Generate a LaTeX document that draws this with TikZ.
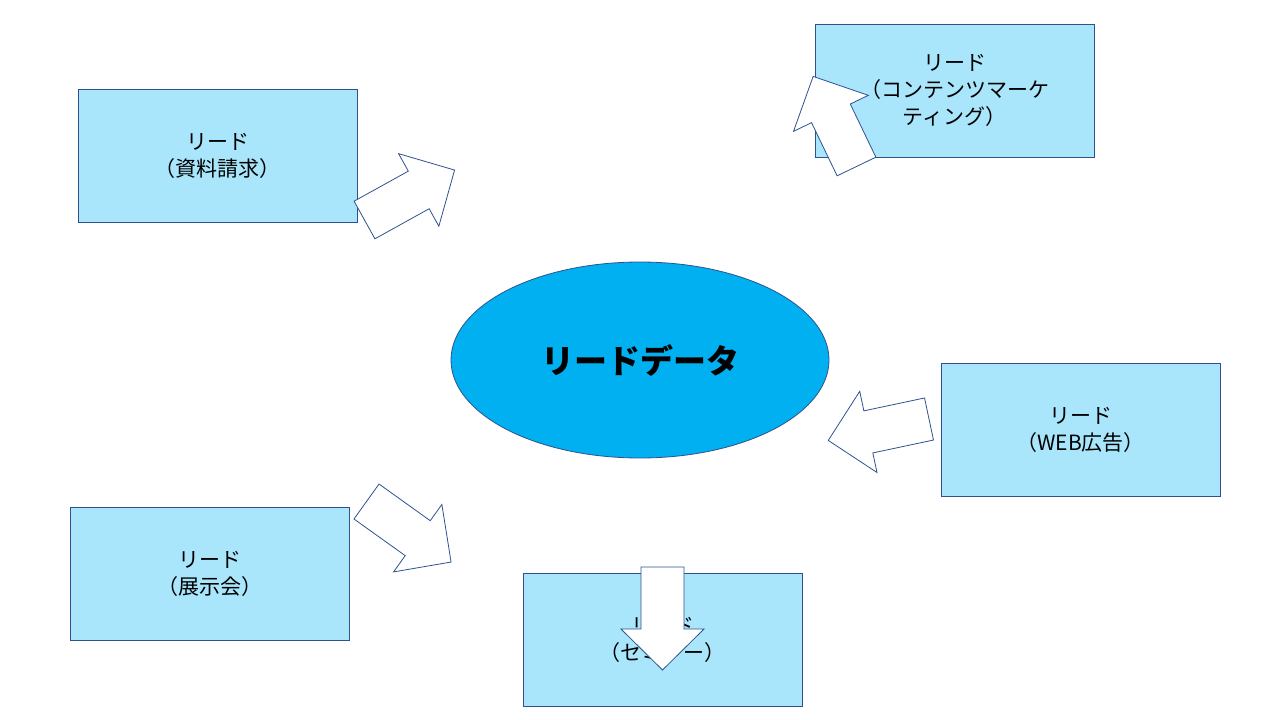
\documentclass[tikz,border=0pt]{standalone}
\usepackage{fontspec}
\usetikzlibrary{shapes.geometric}
\setmainfont{Noto Sans CJK JP}
\definecolor{boxfill}{HTML}{A9E6FC}
\definecolor{edge}{HTML}{2F528F}
\definecolor{ellfill}{HTML}{00B0F0}
\begin{document}
\begin{tikzpicture}[x=1pt,y=-1pt,
  srcbox/.style={draw=edge,fill=boxfill,line width=0.8pt,minimum width=279pt,minimum height=133pt,align=center,font=\fontsize{21}{27}\selectfont,inner sep=0pt},
  blockarrow/.style={draw=edge,fill=white,line width=0.8pt,line join=miter}]
\useasboundingbox (0,0) rectangle (1280,720);
\node[srcbox] (a) at (217.5,156) {リード\\（資料請求）};
\node[srcbox] (b) at (954.5,90.5) {リード\\（コンテンツマーケ\\ティング）};
\node[srcbox] (c) at (1080.5,429.5) {リード\\（WEB広告）};
\node[srcbox] (d) at (209.5,573.5) {リード\\（展示会）};
\node[srcbox] (e) at (662.5,639.5) {リード\\（セミナー）};
\node[draw=edge,fill=ellfill,ellipse,line width=0.8pt,minimum width=378pt,minimum height=196pt,font=\fontsize{33}{40}\selectfont\bfseries] (m) at (640,360) {リードデータ};
\newcommand{\blk}[3]{%
 \begin{scope}[shift={(#1)},rotate=#2]
 \draw[blockarrow] (0,-21.5) -- (#3-41,-21.5) -- (#3-41,-41.5) -- (#3,0) -- (#3-41,41.5) -- (#3-41,21.5) -- (0,21.5) -- cycle;
 \end{scope}}
\blk{662.5,567}{-90}{103}
\blk{364.5,220}{29}{103}
\blk{366.5,501.5}{-35.6}{104}
\blk{856.5,166.5}{115.7}{100}
\blk{929,419}{192}{103}
\end{tikzpicture}
\end{document}
